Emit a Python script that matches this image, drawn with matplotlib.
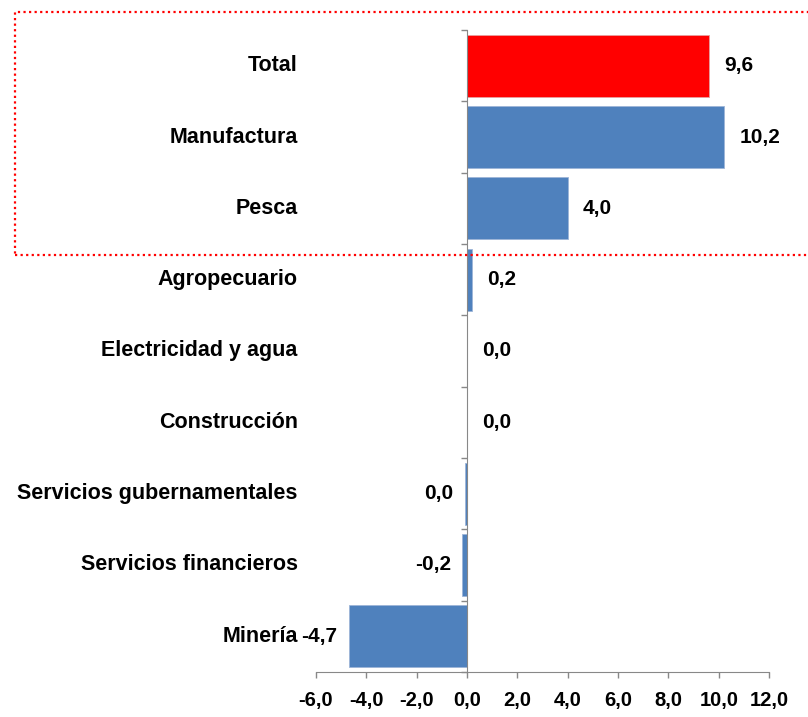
import matplotlib
matplotlib.use("Agg")
import matplotlib.pyplot as plt
from matplotlib.patches import Rectangle
from matplotlib import font_manager

categories = ["Total", "Manufactura", "Pesca", "Agropecuario", "Electricidad y agua",
              "Construcción", "Servicios gubernamentales", "Servicios financieros", "Minería"]
values = [9.6, 10.2, 4.0, 0.2, 0.0, 0.0, -0.1, -0.2, -4.7]
value_labels = ["9,6", "10,2", "4,0", "0,2", "0,0", "0,0", "0,0", "-0,2", "-4,7"]
xticks = [-6, -4, -2, 0, 2, 4, 6, 8, 10, 12]
xtick_labels = ["-6,0", "-4,0", "-2,0", "0,0", "2,0", "4,0", "6,0", "8,0", "10,0", "12,0"]

names = {f.name for f in font_manager.fontManager.ttflist}
fam = ["Liberation Sans Narrow", "Liberation Sans", "DejaVu Sans"]
fam = [f for f in fam if f in names] + ["DejaVu Sans"]
plt.rcParams["font.family"] = fam

fig = plt.figure(figsize=(8.08, 7.17), dpi=100)
ax = fig.add_axes([0.391, 0.063, 0.561, 0.895])

n = len(categories)
ypos = list(range(n))
colors = ["#FF0000"] + ["#4F81BD"] * (n - 1)
ax.barh(ypos, values, height=0.87, color=colors, edgecolor="#9DB5D8", linewidth=0.6)
ax.patches[0].set_edgecolor("#E8A0A0")

ax.set_ylim(n - 0.5, -0.5)
ax.set_xlim(-6, 12)
ax.set_xticks(xticks)
ax.set_xticklabels(xtick_labels, fontsize=14.5, fontweight="bold")
ax.tick_params(axis="x", length=4.5, color="#888888", pad=9, width=1)
ax.set_yticks([i - 0.5 for i in range(n + 1)])
ax.set_yticklabels([])
ax.tick_params(axis="y", length=4.5, color="#888888", width=1)

for s in ["top", "right"]:
    ax.spines[s].set_visible(False)
ax.spines["bottom"].set_color("#888888")
ax.spines["left"].set_position(("data", 0))
ax.spines["left"].set_color("#888888")

for i, (c, v, lab) in enumerate(zip(categories, values, value_labels)):
    ax.annotate(c, xy=(0, i), xycoords=("axes fraction", "data"), xytext=(-13, 0),
                textcoords="offset points", ha="right", va="center",
                fontsize=15.5, fontweight="bold")
    if v >= 0:
        ax.annotate(lab, xy=(v, i), xytext=(11, 0), textcoords="offset points",
                    ha="left", va="center", fontsize=15, fontweight="bold")
    else:
        ax.annotate(lab, xy=(v, i), xytext=(-8, 0), textcoords="offset points",
                    ha="right", va="center", fontsize=15, fontweight="bold")

rect = Rectangle((15 / 808, 1 - 255 / 717), 1.0, (255 - 12) / 717,
                 transform=fig.transFigure, fill=False, edgecolor="#FF0000",
                 linestyle=(0, (1, 1.5)), linewidth=1.6, clip_on=False)
fig.patches.append(rect)

fig.savefig("out.png", dpi=100)
